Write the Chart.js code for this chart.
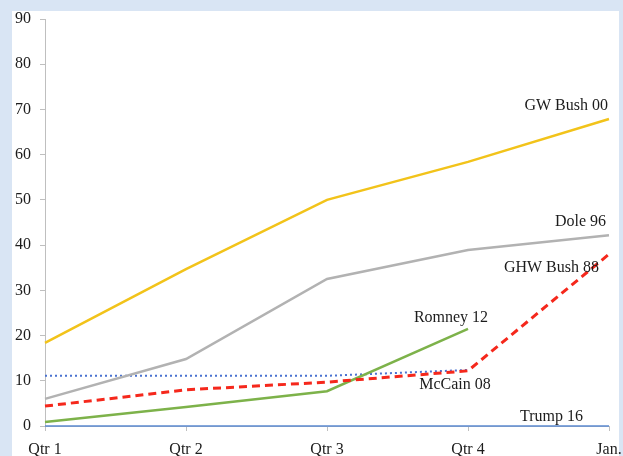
<!DOCTYPE html>
<html>
<head>
<meta charset="utf-8">
<script src="https://cdn.jsdelivr.net/npm/chart.js@4.4.1/dist/chart.umd.min.js"></script>
<style>
  html, body { margin: 0; padding: 0; background: #d9e5f4; }
  #panel { position: absolute; left: 12px; top: 11px; width: 607px; height: 445px; background: #ffffff; }
  #c { position: absolute; left: 0; top: 0; }
</style>
</head>
<body>
<div id="panel"></div>
<canvas id="c" width="623" height="456"></canvas>
<script>
// Fundraising by quarter, candidates compared
const quarters = ['Qtr 1', 'Qtr 2', 'Qtr 3', 'Qtr 4', 'Jan.'];
const yTickStep = 10;
const yMax = 90;

const gwBush00  = [18.4, 34.7, 50.0, 58.4, 67.9];
const dole96    = [6.0, 14.8, 32.5, 38.9, 42.2];
const ghwBush88 = [4.4, 8.0, 9.7, 12.2, 38.0];
const romney12  = [0.9, 4.2, 7.7, 21.5, null];
const mccain08  = [11.1, 11.1, 11.1, 12.4, null];
const trump16   = [0, 0, 0, 0, 0];

const seriesNames = ['GW Bush 00', 'Dole 96', 'GHW Bush 88', 'Romney 12', 'McCain 08', 'Trump 16'];

const serif = '"Liberation Serif", "Times New Roman", serif';
const axisGrey = '#bfbfbf';
const textColor = '#1c1c1c';

// where each series name sits, relative to one of its points
const nameSpots = [
  { at: 4, dx: -1,  dy: -13, align: 'right' },
  { at: 4, dx: -3,  dy: -13, align: 'right' },
  { at: 4, dx: -10, dy: 14,  align: 'right' },
  { at: 3, dx: -17, dy: -11, align: 'center' },
  { at: 3, dx: -13, dy: 15,  align: 'center' },
  { at: 4, dx: -26, dy: -9,  align: 'right' }
];

const seriesNamePlugin = {
  id: 'seriesNames',
  afterDatasetsDraw(chart) {
    const ctx = chart.ctx;
    ctx.save();
    ctx.font = '16px ' + serif;
    ctx.fillStyle = textColor;
    ctx.textBaseline = 'middle';
    chart.data.datasets.forEach((ds, i) => {
      const spot = nameSpots[i];
      const pt = chart.getDatasetMeta(i).data[spot.at];
      if (!pt) return;
      ctx.textAlign = spot.align;
      ctx.fillText(seriesNames[i], pt.x + spot.dx, pt.y + spot.dy);
    });
    ctx.restore();
  }
};

const lineBase = { pointRadius: 0, pointHoverRadius: 0, tension: 0, fill: false, clip: false, spanGaps: false };

new Chart(document.getElementById('c'), {
  type: 'line',
  data: {
    labels: quarters,
    datasets: [
      { ...lineBase, label: seriesNames[0], data: gwBush00,  borderColor: '#f2c31a', borderWidth: 2.5 },
      { ...lineBase, label: seriesNames[1], data: dole96,    borderColor: '#b2b2b2', borderWidth: 2.5 },
      { ...lineBase, label: seriesNames[2], data: ghwBush88, borderColor: '#f5281c', borderWidth: 3, borderDash: [8, 5] },
      { ...lineBase, label: seriesNames[3], data: romney12,  borderColor: '#7db24a', borderWidth: 2.5 },
      { ...lineBase, label: seriesNames[4], data: mccain08,  borderColor: '#4a72d0', borderWidth: 2, borderDash: [2, 3] },
      { ...lineBase, label: seriesNames[5], data: trump16,   borderColor: '#5b8ad0', borderWidth: 1.5 }
    ]
  },
  options: {
    responsive: false,
    animation: false,
    devicePixelRatio: 1,
    layout: { padding: { top: 19, right: 14, left: 0, bottom: 0 } },
    plugins: { legend: { display: false }, tooltip: { enabled: false } },
    scales: {
      x: {
        offset: false,
        grid: { display: true, drawOnChartArea: false, drawTicks: true, tickLength: 5, color: axisGrey },
        border: { display: true, color: axisGrey, width: 1 },
        ticks: { font: { family: serif, size: 16 }, color: textColor, padding: 9, maxRotation: 0, autoSkip: false },
        afterFit(scale) {
          scale.height = 30;
          scale.paddingLeft = 0;
          scale.paddingRight = 0;
        }
      },
      y: {
        min: 0,
        max: yMax,
        grid: { display: true, drawOnChartArea: false, drawTicks: true, tickLength: 5, color: axisGrey },
        border: { display: true, color: axisGrey, width: 1 },
        ticks: { stepSize: yTickStep, font: { family: serif, size: 16 }, color: textColor, padding: 9 },
        afterFit(scale) { scale.width = 45; }
      }
    }
  },
  plugins: [seriesNamePlugin]
});
</script>
</body>
</html>
